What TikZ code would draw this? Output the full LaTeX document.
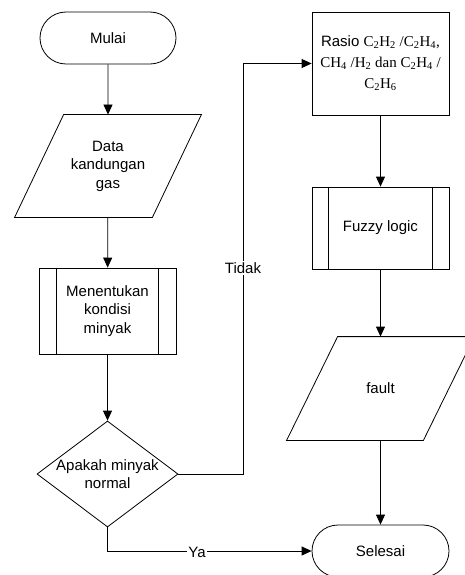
\documentclass[tikz,border=0pt]{standalone}
\usepackage{fontspec}
\setmainfont{Liberation Sans}
\newfontfamily\tnr{Liberation Serif}
\usetikzlibrary{arrows.meta,shapes.misc,shapes.geometric}
\newcommand{\sbs}[1]{\textsubscript{#1}}
\begin{document}
\begin{tikzpicture}[x=1pt,y=-1pt, line width=0.8pt,
  font=\fontsize{15}{18.5}\selectfont,
  terminal/.style={draw, rounded rectangle, minimum width=136pt, minimum height=52pt, inner sep=0pt},
  iobox/.style={minimum width=#1, inner sep=0pt, align=center},
  procbox/.style={draw, minimum width=137pt, inner sep=0pt, align=center},
  plainbox/.style={draw, minimum width=137pt, minimum height=103pt, inner sep=0pt, align=center},
  decision/.style={draw, diamond, minimum width=141pt, minimum height=106pt, inner sep=0pt},
  arr/.style={-{Triangle[length=10pt,width=9pt]}},
  lbl/.style={fill=white, inner sep=1pt}]
\useasboundingbox (0,0) rectangle (465,575);
\clip (0,0) rectangle (465,575);

% nodes
\node[terminal] (mulai) at (108,38) {Mulai};
\node[iobox=137pt, minimum height=102pt] (data) at (108,166) {Data\\kandungan\\gas};
\draw ([xshift=24.5pt]data.north west) -- ([xshift=24.5pt]data.north east)
  -- ([xshift=-24.5pt]data.south east) -- ([xshift=-24.5pt]data.south west) -- cycle;
\node[procbox, minimum height=86pt] (tentu) at (107.5,311) {Menentukan\\kondisi\\minyak};
\draw ([xshift=18pt]tentu.north west) -- ([xshift=18pt]tentu.south west);
\draw ([xshift=-18pt]tentu.north east) -- ([xshift=-18pt]tentu.south east);
\node[decision] (cek) at (107.5,474) {};
\node[align=center, inner sep=0pt] (cektxt) at (cek) {Apakah minyak\\normal};

\node[plainbox] (rasio) at (380.5,63.5) {Rasio {\tnr C\sbs{2}H\sbs{2} /C\sbs{2}H\sbs{4},}\\[2.5pt]
  {\tnr CH\sbs{4} /H\sbs{2} dan C\sbs{2}H\sbs{4} /}\\[2.5pt]{\tnr C\sbs{2}H\sbs{6}}};
\node[procbox, minimum height=82pt] (fuzzy) at (380.5,228) {Fuzzy logic};
\draw ([xshift=17pt]fuzzy.north west) -- ([xshift=17pt]fuzzy.south west);
\draw ([xshift=-17pt]fuzzy.north east) -- ([xshift=-17pt]fuzzy.south east);
\node[iobox=136pt, minimum height=103pt] (fault) at (380.5,388.5) {fault};
\draw ([xshift=25.5pt]fault.north west) -- ([xshift=25.5pt]fault.north east)
  -- ([xshift=-25.5pt]fault.south east) -- ([xshift=-25.5pt]fault.south west) -- cycle;
\node[terminal, minimum width=137pt] (selesai) at (380.5,551) {Selesai};

% connectors
\draw[arr] (mulai) -- (data);
\draw[arr] (data) -- (tentu);
\draw[arr] (tentu) -- (cek);
\coordinate (belok) at (243,474);
\draw[arr] (cek.east) -- (belok) |- (rasio.west);
\node[lbl] (tidak) at (243,268) {Tidak};
\draw[arr] (cek.south) |- (selesai.west);
\node[lbl] (ya) at (197,552) {Ya};
\draw[arr] (rasio) -- (fuzzy);
\draw[arr] (fuzzy) -- (fault);
\draw[arr] (fault) -- (selesai);
\end{tikzpicture}
\end{document}
